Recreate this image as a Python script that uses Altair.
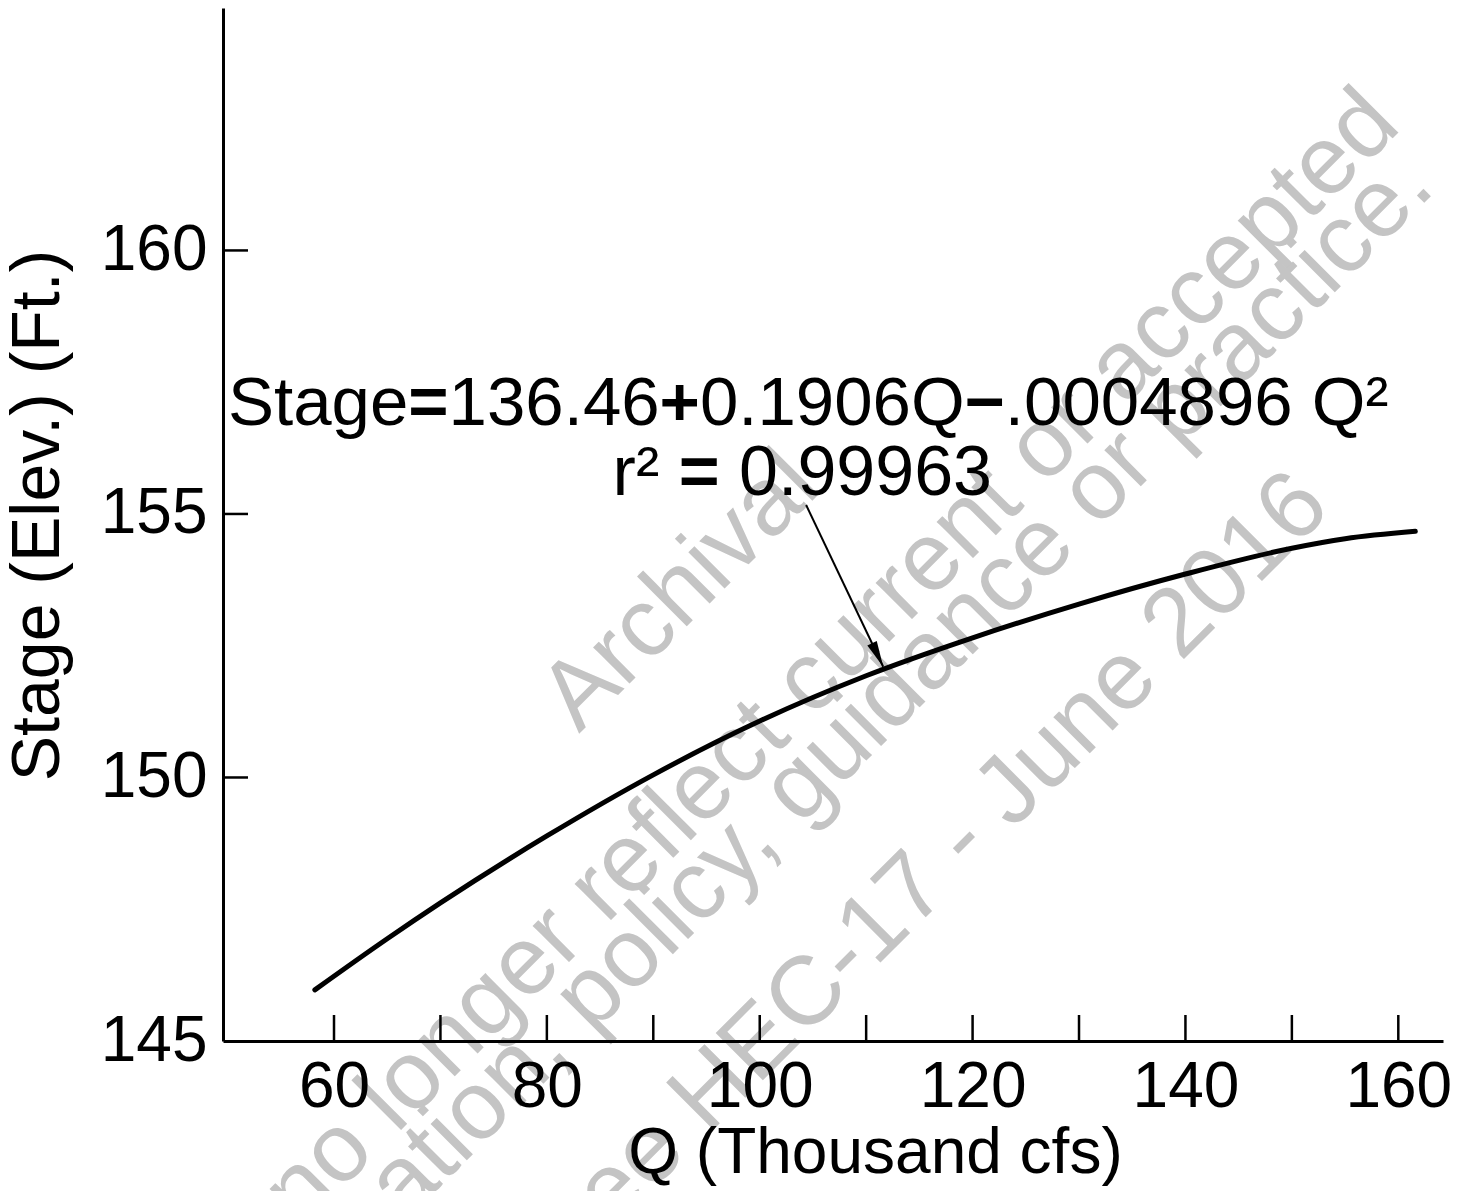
import altair as alt
import pandas as pd

# Stage-discharge rating curve (Q in thousand cfs, stage in ft)
q_values = [58.2, 65, 70, 80, 90, 100, 110, 120, 130, 140, 150, 155, 161.6]
stage_values = [145.97, 146.94, 147.62, 148.89, 150.05, 151.07, 151.93,
                152.65, 153.29, 153.86, 154.35, 154.53, 154.67]

x_tick_values = [60, 70, 80, 90, 100, 110, 120, 130, 140, 150, 160]
x_label_values = [60, 80, 100, 120, 140, 160]
y_label_values = [145, 150, 155, 160]
y_tick_values = [150, 155, 160]

# Regression equation, split so the operators can be set in bold
equation_parts = [("Stage", False), ("=", True), ("136.46", False), ("+", True),
                  ("0.1906Q", False), ("\u2212", True), (".0004896", False),
                  (" ", False), ("Q\u00b2", False)]
fit_parts = [("r\u00b2", False), (" ", False), ("=", True), (" ", False),
             ("0.99963", False)]
equation_anchor = [50.04, 156.69]   # left end of the equation baseline
fit_anchor = [104.0, 155.36]        # centre of the r-squared baseline
arrow_start = [104.36, 155.17]
arrow_end = [111.60, 152.10]

watermark_lines = [
    "Archival",
    "This document may no longer reflect current or accepted",
    "information, policy, guidance or practice.",
    "See HEC-17 - June 2016",
]

FONT = "Liberation Sans"
W, H = 1220, 1033
GRAY = "#c4c4c4"
X_DOMAIN = [49.57, 164.2]
Y_DOMAIN = [145, 164.6]
PX_PER_Q = W / (X_DOMAIN[1] - X_DOMAIN[0])

# Advance widths (em) of Liberation Sans glyphs used in the annotations
ADV = {"S": .667, "t": .278, "a": .556, "g": .556, "e": .556, "=": .584,
       "+": .584, "\u2212": .584, ".": .278, " ": .278, "Q": .778,
       "\u00b2": .333, "r": .333}
for d in "0123456789":
    ADV[d] = .556


def text_width(s, size):
    return sum(ADV[c] for c in s) * size


x_scale = alt.Scale(domain=X_DOMAIN, nice=False, zero=False)
y_scale = alt.Scale(domain=Y_DOMAIN, nice=False, zero=False)

x_axis = alt.Axis(
    values=x_label_values, ticks=False, grid=False,
    domainColor="black", domainWidth=3,
    labelFont=FONT, labelFontSize=64, labelColor="black", labelPadding=14,
    labelFlush=False, labelOverlap=False,
    title="Q (Thousand cfs)", titleFont=FONT, titleFontSize=64,
    titleFontWeight="normal", titleColor="black", titlePadding=2, titleX=652,
    zindex=1,
)
y_axis = alt.Axis(
    values=y_label_values, ticks=False, grid=False,
    domainColor="black", domainWidth=3,
    labelFont=FONT, labelFontSize=64, labelColor="black", labelPadding=16,
    labelFlush=False, labelOverlap=False,
    title="Stage (Elev.) (Ft.)", titleFont=FONT, titleFontSize=68,
    titleFontWeight="normal", titleColor="black", titlePadding=28, titleY=507,
    zindex=1,
)


def xq(field="Q"):
    return alt.X(f"{field}:Q", scale=x_scale, axis=x_axis)


def ys(field="Stage"):
    return alt.Y(f"{field}:Q", scale=y_scale, axis=y_axis)


curve_df = pd.DataFrame({"Q": q_values, "Stage": stage_values})
xtick_df = pd.DataFrame({"Q": x_tick_values})
ytick_df = pd.DataFrame({"Stage": y_tick_values})
arrow_df = pd.DataFrame({"Q": [arrow_start[0]], "Stage": [arrow_start[1]],
                         "Q2": [arrow_end[0]], "Stage2": [arrow_end[1]]})
head_df = pd.DataFrame({"Q": [arrow_end[0]], "Stage": [arrow_end[1]]})
one_row = alt.Data(values=[{}])

# Watermark, drawn underneath everything
wm_specs = [
    (watermark_lines[0], 478, 604, "center"),
    (watermark_lines[1], 1180, 120, "right"),
    (watermark_lines[2], 1214, 182, "right"),
    (watermark_lines[3], 1110, 502, "right"),
]
wm_layers = [
    alt.Chart(one_row).mark_text(
        text=t, font=FONT, fontSize=97, color=GRAY, angle=315,
        align=al, baseline="alphabetic",
    ).encode(x=alt.value(px), y=alt.value(py))
    for t, px, py, al in wm_specs
]


def text_run(parts, left_q, base_stage, size):
    """Lay out a run of text pieces left to right along one baseline."""
    layers = []
    offset = 0.0
    for s, bold in parts:
        if s.strip():
            layers.append(
                alt.Chart(one_row).mark_text(
                    text=s, font=FONT, fontSize=size, color="black",
                    fontWeight="bold" if bold else "normal",
                    align="left", baseline="alphabetic",
                ).encode(
                    x=alt.datum(left_q + offset / PX_PER_Q, scale=x_scale, axis=x_axis),
                    y=alt.datum(base_stage, scale=y_scale, axis=y_axis),
                )
            )
        offset += text_width(s, size)
    return layers


eq_layers = text_run(equation_parts, equation_anchor[0], equation_anchor[1], 69)
fit_width = sum(text_width(s, 70) for s, _ in fit_parts)
fit_layers = text_run(fit_parts, fit_anchor[0] - fit_width / 2 / PX_PER_Q,
                      fit_anchor[1], 70)

curve = alt.Chart(curve_df).mark_line(
    color="black", strokeWidth=5, interpolate="monotone", strokeCap="round"
).encode(x=xq(), y=ys())

x_ticks = alt.Chart(xtick_df).mark_rule(color="black", strokeWidth=2.5).encode(
    x=xq(), y=alt.value(H), y2=alt.value(H - 26),
)

y_ticks = alt.Chart(ytick_df).mark_rule(color="black", strokeWidth=2.5).encode(
    y=ys(), x=alt.value(0), x2=alt.value(25),
)

arrow_line = alt.Chart(arrow_df).mark_rule(color="black", strokeWidth=2).encode(
    x=xq(), y=ys(), x2="Q2:Q", y2="Stage2:Q",
)

arrow_head = alt.Chart(head_df).mark_point(
    shape="M0,0 L-0.4,-2 L0.4,-2 Z", size=676, filled=True,
    color="black", opacity=1, angle=334.6,
).encode(x=xq(), y=ys())

chart = alt.layer(
    *wm_layers, curve, x_ticks, y_ticks, arrow_line, arrow_head,
    *eq_layers, *fit_layers
).properties(
    width=W, height=H,
    padding={"left": 223, "top": 8, "right": 21, "bottom": 150},
    autosize=alt.AutoSizeParams(type="none"),
    background="white",
).configure_view(stroke=None)

chart.save("out.html", embed_options={"renderer": "svg", "actions": False})
